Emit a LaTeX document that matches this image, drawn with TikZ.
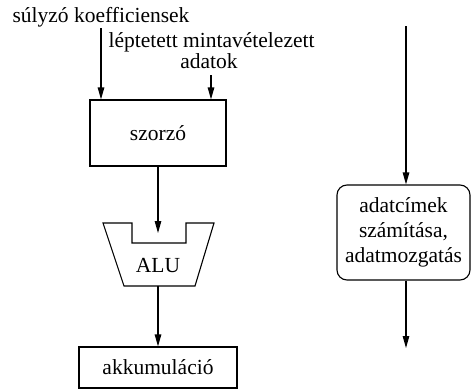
\documentclass[tikz,border=0pt]{standalone}
\usepackage{fontspec}
\setmainfont{Liberation Serif}
\usetikzlibrary{arrows.meta}
\begin{document}
\begin{tikzpicture}[x=1pt,y=-1pt,
  font=\fontsize{21.5}{25}\selectfont,
  line width=1.1pt,
  flow/.style={-{Triangle[length=12pt,width=6.5pt]}},
  blockbox/.style={draw,rectangle,inner sep=0pt,align=center},
  roundbox/.style={draw,rectangle,rounded corners=10pt,inner sep=0pt,align=center}]
\useasboundingbox (0,0) rectangle (472,391);

% multiplier
\node[blockbox,minimum width=136pt,minimum height=66pt] (mul) at (158,133) {szorzó};

% input labels and their entry points
\node[anchor=base west,inner sep=0pt] (wlbl) at (12,22) {súlyzó koefficiensek};
\node[anchor=base west,inner sep=0pt] (dlbl) at (108,47) {léptetett mintavételezett};
\node[anchor=base,inner sep=0pt] (dlbl2) at (209,68) {adatok};
\coordinate (win) at (101,28);
\coordinate (din) at (211,75);
\draw[flow] (win) -- (win |- mul.north);
\draw[flow] (din) -- (din |- mul.north);

% ALU
\draw (103,223) -- (132,223) -- (132,243) -- (186,243) -- (186,223) -- (214,223)
      -- (195,286) -- (124,286) -- cycle;
\node (alu) at (158,266) {ALU};
\coordinate (alubot) at (158,286);
\draw[flow] (mul.south) -- (158,233);

% accumulator
\node[blockbox,minimum width=158pt,minimum height=41pt] (acc) at (158,367.5) {akkumuláció};
\draw[flow] (alubot) -- (acc.north);

% address computation / data movement
\coordinate (ain) at (406,26);
\node[roundbox,minimum width=133pt,minimum height=95pt] (addr) at (403.5,232.5)
  {adatcímek\\számítása,\\adatmozgatás};
\coordinate (aout) at (406,348);
\draw[flow] (ain) -- (ain |- addr.north);
\draw[flow] (ain |- addr.south) -- (aout);
\end{tikzpicture}
\end{document}
